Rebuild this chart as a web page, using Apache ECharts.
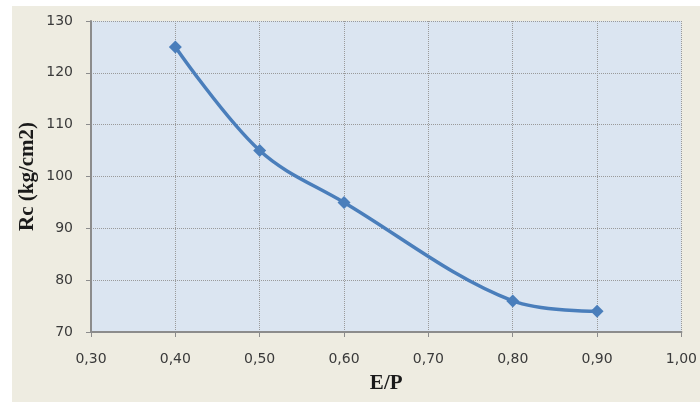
<!DOCTYPE html>
<html>
<head>
<meta charset="utf-8">
<script src="https://cdn.jsdelivr.net/npm/echarts@6/dist/echarts.min.js"></script>
<style>
  html, body { margin: 0; padding: 0; background: #fff; }
  #chart { width: 700px; height: 403px; }
</style>
</head>
<body>
<div id="chart"></div>
<script>
// E/P ratio vs Rc
var ratios = [0.40, 0.50, 0.60, 0.80, 0.90];
var strength = [125, 105, 95, 76, 74];

var points = [];
for (let i = 0; i < ratios.length; i++) {
  points.push([ratios[i], strength[i]]);
}

var myChart = echarts.init(document.getElementById('chart'));

myChart.setOption({
  backgroundColor: '#fff',
  graphic: [{
    type: 'rect',
    z: -10,
    shape: { x: 12, y: 6, width: 688, height: 396 },
    style: { fill: '#eeece1' },
    silent: true
  }],
  grid: {
    left: 91,
    right: 18,
    top: 21,
    bottom: 71,
    show: true,
    backgroundColor: '#dbe5f1',
    borderWidth: 0
  },
  xAxis: {
    type: 'value',
    min: 0.3,
    max: 1.0,
    interval: 0.1,
    name: 'E/P',
    nameLocation: 'middle',
    nameGap: 41,
    nameTextStyle: { fontFamily: 'Liberation Serif', fontWeight: 'bold', fontSize: 21, color: '#1a1a1a' },
    axisLine: { show: true, lineStyle: { color: '#8c8c8c', width: 2 } },
    axisTick: { show: true, length: 5, lineStyle: { color: '#8c8c8c' } },
    axisLabel: {
      fontFamily: 'DejaVu Sans',
      fontSize: 14,
      color: '#3a3a3a',
      margin: 20,
      formatter: function (v) { return v.toFixed(2).replace('.', ','); }
    },
    splitLine: { show: true, lineStyle: { color: '#9a9a9a', type: [1, 1], width: 1 } }
  },
  yAxis: {
    type: 'value',
    min: 70,
    max: 130,
    interval: 10,
    name: 'Rc (kg/cm2)',
    nameLocation: 'middle',
    nameGap: 53,
    nameMoveOverlap: false,
    nameTextStyle: { fontFamily: 'Liberation Serif', fontWeight: 'bold', fontSize: 21, color: '#1a1a1a' },
    axisLine: { show: true, lineStyle: { color: '#8c8c8c', width: 2 } },
    axisTick: { show: true, length: 5, lineStyle: { color: '#8c8c8c' } },
    axisLabel: { fontFamily: 'DejaVu Sans', fontSize: 14, color: '#3a3a3a', margin: 18 },
    splitLine: { show: true, lineStyle: { color: '#9a9a9a', type: [1, 1], width: 1 } }
  },
  series: [{
    type: 'line',
    data: points,
    smooth: 0.35,
    symbol: 'diamond',
    symbolSize: 13,
    lineStyle: { color: '#4a7ebb', width: 3.5 },
    itemStyle: { color: '#4a7ebb' }
  }]
});
</script>
</body>
</html>
